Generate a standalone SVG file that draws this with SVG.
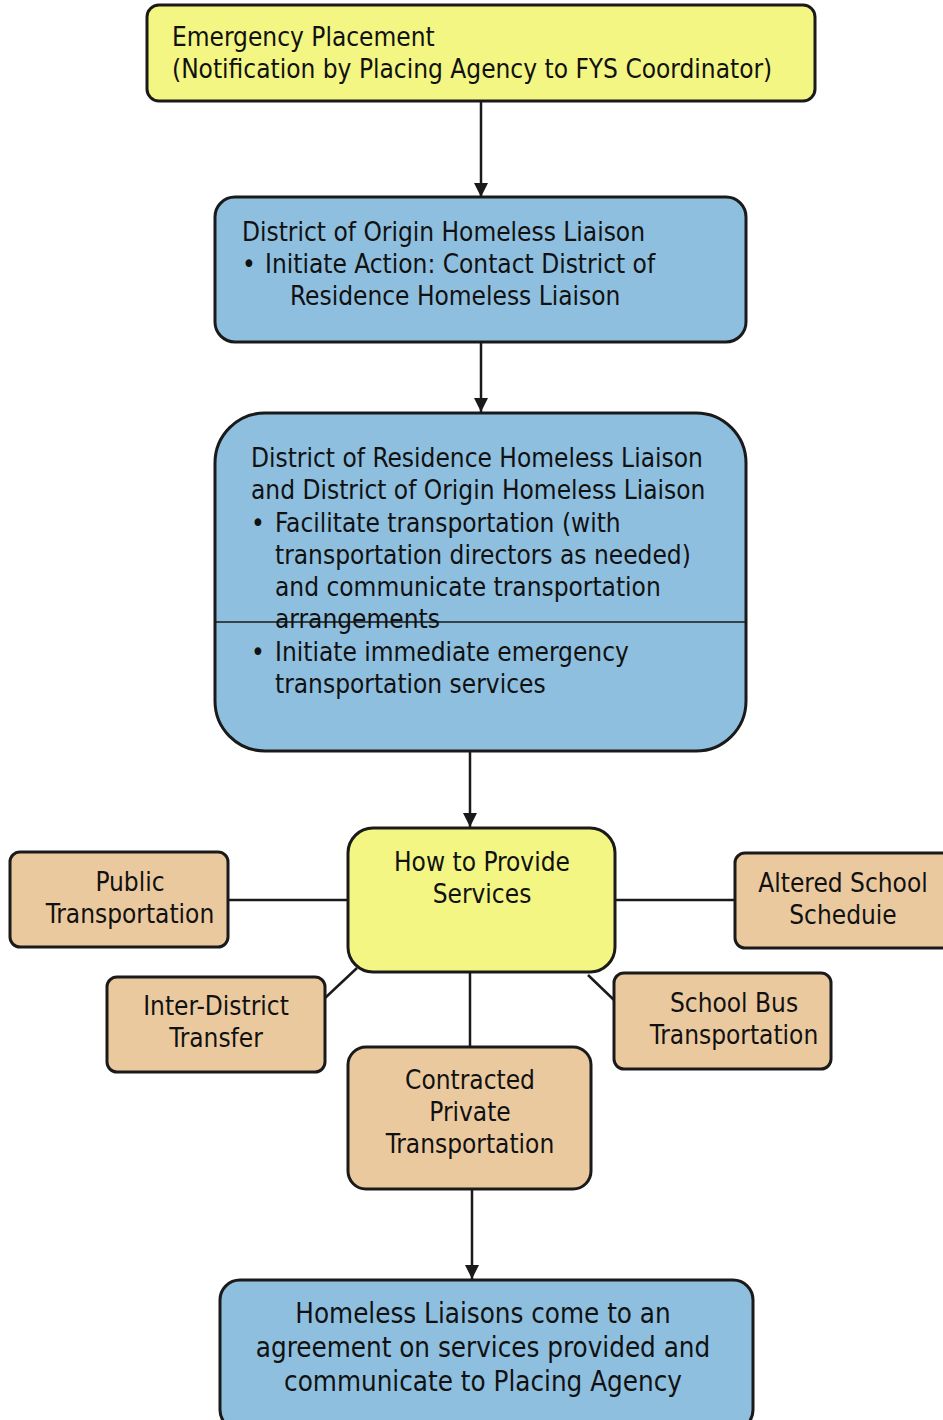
<svg xmlns="http://www.w3.org/2000/svg" width="943" height="1420" viewBox="0 0 943 1420">
<defs>
<style>
text{font-family:"DejaVu Sans Condensed","DejaVu Sans",sans-serif;font-size:26px;fill:#111;}
.c{text-anchor:middle;}
.big{font-size:27.5px;}
.box{stroke:#1a1a1a;stroke-width:3;}
.y{fill:#f3f682;}
.b{fill:#8ebfdf;}
.t{fill:#ebc99f;}
.ln{stroke:#1a1a1a;stroke-width:2.5;fill:none;}
</style>
<marker id="ah" viewBox="0 0 10 10" refX="10" refY="5" markerWidth="15" markerHeight="14" markerUnits="userSpaceOnUse" orient="auto">
<path d="M0,0 L10,5 L0,10 z" fill="#1a1a1a"/>
</marker>
</defs>
<g id="connectors">
<line class="ln" x1="481" y1="101" x2="481" y2="197" marker-end="url(#ah)"/>
<line class="ln" x1="481" y1="342" x2="481" y2="412" marker-end="url(#ah)"/>
<line class="ln" x1="470" y1="751" x2="470" y2="827" marker-end="url(#ah)"/>
<line class="ln" x1="228" y1="900" x2="348" y2="900"/>
<line class="ln" x1="615" y1="900" x2="735" y2="900"/>
<line class="ln" x1="325" y1="998" x2="357" y2="968"/>
<line class="ln" x1="588" y1="975" x2="614" y2="1000"/>
<line class="ln" x1="470" y1="972" x2="470" y2="1047"/>
<line class="ln" x1="472" y1="1189" x2="472" y2="1279" marker-end="url(#ah)"/>
</g>
<g id="emergency">
<rect class="box y" x="147" y="5" width="668" height="96" rx="12"/>
<text x="172" y="46">Emergency Placement</text>
<text x="172" y="78">(Notification by Placing Agency to FYS Coordinator)</text>
</g>
<g id="origin">
<rect class="box b" x="215" y="197" width="531" height="145" rx="20"/>
<text x="242" y="241">District of Origin Homeless Liaison</text>
<text x="242" y="273">•</text><text x="265" y="273">Initiate Action: Contact District of</text>
<text x="290" y="305">Residence Homeless Liaison</text>
</g>
<g id="residence">
<rect class="box b" x="215" y="413" width="531" height="338" rx="50"/>
<line x1="215" y1="622" x2="746" y2="622" stroke="#1a1a1a" stroke-width="1.5"/>
<text x="251" y="467">District of Residence Homeless Liaison</text>
<text x="251" y="499">and District of Origin Homeless Liaison</text>
<text x="251" y="532">•</text><text x="275" y="532">Facilitate transportation (with</text>
<text x="275" y="564">transportation directors as needed)</text>
<text x="275" y="596">and communicate transportation</text>
<text x="275" y="628">arrangements</text>
<text x="251" y="661">•</text><text x="275" y="661">Initiate immediate emergency</text>
<text x="275" y="693">transportation services</text>
</g>
<g id="how">
<rect class="box y" x="348" y="828" width="267" height="144" rx="25"/>
<text class="c" x="482" y="871">How to Provide</text>
<text class="c" x="482" y="903">Services</text>
</g>
<g id="public">
<rect class="box t" x="10" y="852" width="218" height="95" rx="10"/>
<text class="c" x="130" y="891">Public</text>
<text class="c" x="130" y="923">Transportation</text>
</g>
<g id="altered">
<rect class="box t" x="735" y="853" width="220" height="95" rx="10"/>
<text class="c" x="843" y="892">Altered School</text>
<text class="c" x="843" y="924">Scheduie</text>
</g>
<g id="inter">
<rect class="box t" x="107" y="977" width="218" height="95" rx="10"/>
<text class="c" x="216" y="1015">Inter-District</text>
<text class="c" x="216" y="1047">Transfer</text>
</g>
<g id="schoolbus">
<rect class="box t" x="614" y="973" width="217" height="96" rx="10"/>
<text class="c" x="734" y="1012">School Bus</text>
<text class="c" x="734" y="1044">Transportation</text>
</g>
<g id="contracted">
<rect class="box t" x="348" y="1047" width="243" height="142" rx="18"/>
<text class="c" x="470" y="1089">Contracted</text>
<text class="c" x="470" y="1121">Private</text>
<text class="c" x="470" y="1153">Transportation</text>
</g>
<g id="agreement">
<rect class="box b" x="220" y="1280" width="533" height="150" rx="20"/>
<text class="c big" x="483" y="1323">Homeless Liaisons come to an</text>
<text class="c big" x="483" y="1357">agreement on services provided and</text>
<text class="c big" x="483" y="1391">communicate to Placing Agency</text>
</g>
</svg>
